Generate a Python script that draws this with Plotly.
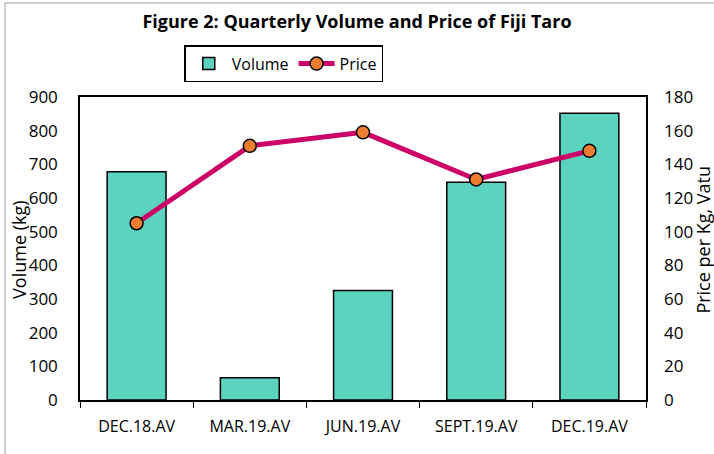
import plotly.graph_objects as go
from plotly.subplots import make_subplots

quarters = ["DEC.18.AV", "MAR.19.AV", "JUN.19.AV", "SEPT.19.AV", "DEC.19.AV"]
volume_kg = [678, 66, 325, 647, 852]
price_vatu = [105, 151, 159, 131, 148]

font_family = "'Open Sans', Lato, sans-serif"

fig = make_subplots(specs=[[{"secondary_y": True}]])

# Volume bars
fig.add_trace(
    go.Bar(
        x=quarters,
        y=volume_kg,
        name="Volume",
        width=0.52,
        marker=dict(color="#5CD3BF", line=dict(color="black", width=1.5)),
    ),
    secondary_y=False,
)

# Price line
fig.add_trace(
    go.Scatter(
        x=quarters,
        y=price_vatu,
        name="Price",
        mode="lines+markers",
        line=dict(color="#CC0066", width=5),
        marker=dict(color="#ED7D31", size=13, line=dict(color="black", width=1.5)),
    ),
    secondary_y=True,
)

fig.update_xaxes(
    automargin=False, domain=[0, 1],
    showline=True, linecolor="black", linewidth=1.5, mirror=True,
    ticks="outside", tickson="boundaries", ticklen=6, tickcolor="black",
    tickfont=dict(size=16, color="black"), ticklabelstandoff=11,
)
fig.update_yaxes(
    automargin=False, range=[0, 900], dtick=100,
    showgrid=False, showline=True, linecolor="black", linewidth=1.5, mirror=True,
    tickfont=dict(size=17, color="black"), ticklabelstandoff=17,
    secondary_y=False,
)
fig.update_yaxes(
    automargin=False, range=[0, 180], dtick=20,
    showgrid=False, showline=False,
    tickfont=dict(size=17, color="black"), ticklabelstandoff=17,
    secondary_y=True,
)

# axis titles placed as annotations so they can sit close to the tick labels
fig.add_annotation(text="Volume (kg)", xref="paper", yref="paper", x=-0.108, y=0.495,
                   xanchor="center", yanchor="middle",
                   textangle=-90, showarrow=False, font=dict(size=18, color="black"))
fig.add_annotation(text="Price per Kg, Vatu", xref="paper", yref="paper", x=1.1, y=0.528,
                   xanchor="center", yanchor="middle",
                   textangle=-90, showarrow=False, font=dict(size=18, color="black"))

fig.update_layout(
    width=714, height=454,
    margin=dict(l=80, r=68, t=97, b=54),
    plot_bgcolor="white", paper_bgcolor="white",
    font=dict(family=font_family, color="black"),
    title=dict(
        text="<b>Figure 2: Quarterly Volume and Price of Fiji Taro</b>",
        x=0.5, xanchor="center", yref="container", y=0.953, yanchor="middle",
        font=dict(size=18, color="black"),
    ),
    legend=dict(
        orientation="h", x=0.36, xanchor="center", y=1.11, yanchor="middle",
        bordercolor="black", borderwidth=1.5, font=dict(size=16),
        itemwidth=36,
    ),
    bargap=0.48,
    shapes=[
        dict(type="rect", xref="paper", yref="paper", x0=-0.1325, x1=1.2, y0=-0.3, y1=1.31,
             line=dict(color="#BFBFBF", width=1.5)),
    ],
)

fig.write_html("out.html", config={"displayModeBar": False},
               post_script="document.body.style.margin='0';")
